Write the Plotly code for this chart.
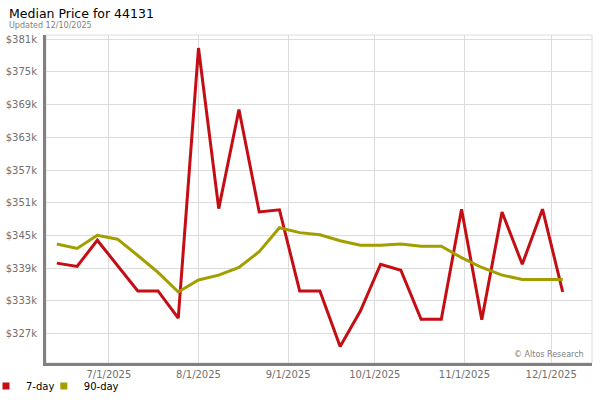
import plotly.graph_objects as go

# weekly points (Fridays)
dates = ["2025-06-13", "2025-06-20", "2025-06-27", "2025-07-04", "2025-07-11",
         "2025-07-18", "2025-07-25", "2025-08-01", "2025-08-08", "2025-08-15",
         "2025-08-22", "2025-08-29", "2025-09-05", "2025-09-12", "2025-09-19",
         "2025-09-26", "2025-10-03", "2025-10-10", "2025-10-17", "2025-10-24",
         "2025-10-31", "2025-11-07", "2025-11-14", "2025-11-21", "2025-11-28",
         "2025-12-05"]

price_7day = [339900, 339300, 344100, 339500, 334800, 334800, 329800, 379400,
              349900, 368100, 349300, 349700, 334800, 334800, 324600, 331100,
              339700, 338600, 329600, 329600, 349800, 329500, 349300, 339700,
              349800, 334600]

price_90day = [343400, 342600, 345000, 344300, 341300, 338200, 334600, 336800,
               337700, 339100, 342000, 346400, 345500, 345100, 344000, 343200,
               343200, 343400, 343000, 343000, 340900, 339100, 337700, 336900,
               336900, 336900]

y_ticks = [327000, 333000, 339000, 345000, 351000, 357000, 363000, 369000,
           375000, 381000]
y_labels = ["$327k", "$333k", "$339k", "$345k", "$351k", "$357k", "$363k",
            "$369k", "$375k", "$381k"]

x_ticks = ["2025-07-01", "2025-08-01", "2025-09-01", "2025-10-01",
           "2025-11-01", "2025-12-01"]
x_labels = ["7/1/2025", "8/1/2025", "9/1/2025", "10/1/2025", "11/1/2025",
            "12/1/2025"]

RED = "#c50d14"
OLIVE = "#a39e00"
FONT = "DejaVu Sans"

fig = go.Figure()

fig.add_trace(go.Scatter(x=dates, y=price_7day, mode="lines", name="7-day",
                         line=dict(color=RED, width=3), showlegend=False,
                         hovertemplate="%{x}<br>$%{y:,.0f}<extra>7-day</extra>"))
fig.add_trace(go.Scatter(x=dates, y=price_90day, mode="lines", name="90-day",
                         line=dict(color=OLIVE, width=3), showlegend=False,
                         hovertemplate="%{x}<br>$%{y:,.0f}<extra>90-day</extra>"))

# square legend swatches, one legend box each so they can sit close together
for name, color, leg in [("7-day", RED, "legend"), ("90-day", OLIVE, "legend2")]:
    fig.add_trace(go.Scatter(x=[None], y=[None], mode="markers", name=name,
                             legend=leg,
                             marker=dict(symbol="square", size=7, color=color)))

legend_style = dict(orientation="h", xref="paper", xanchor="left",
                    yref="container", y=0.035, yanchor="middle",
                    font=dict(size=10, color="#000"), itemwidth=30,
                    bgcolor="rgba(0,0,0,0)")

fig.update_layout(
    width=600,
    height=400,
    margin=dict(l=46, r=8, t=35, b=37, autoexpand=False),
    paper_bgcolor="white",
    plot_bgcolor="white",
    font=dict(family=FONT, size=10, color="#000"),
    showlegend=True,
    legend=dict(x=-0.1099, **legend_style),
    legend2=dict(x=-0.004, **legend_style),
    xaxis=dict(
        range=["2025-06-09 06:00", "2025-12-15 03:00"],
        tickvals=x_ticks, ticktext=x_labels,
        showgrid=True, gridcolor="#dcdcdc", gridwidth=1,
        showline=True, linecolor="#808080", linewidth=3,
        ticks="", tickfont=dict(size=10, color="#707070"),
        zeroline=False, automargin=False,
    ),
    yaxis=dict(
        range=[321560, 381790],
        tickvals=y_ticks, ticktext=y_labels,
        showgrid=True, gridcolor="#dcdcdc", gridwidth=1,
        showline=True, linecolor="#808080", linewidth=3,
        ticks="", tickfont=dict(size=10, color="#707070"),
        ticklabelstandoff=4,
        zeroline=False, automargin=False,
    ),
    shapes=[dict(type="rect", xref="paper", yref="paper", x0=0, x1=1, y0=0, y1=1,
                 line=dict(color="#dcdcdc", width=1), layer="below")],
    annotations=[
        dict(text="Median Price for 44131", xref="paper", yref="paper",
             x=-0.0714, y=1.066, xanchor="left", yanchor="middle",
             showarrow=False, font=dict(size=12.5, color="#000")),
        dict(text="Updated 12/10/2025", xref="paper", yref="paper",
             x=-0.0714, y=1.030, xanchor="left", yanchor="middle",
             showarrow=False, font=dict(size=8, color="#808080")),
        dict(text="© Altos Research", xref="paper", yref="paper",
             x=0.989, y=0.027, xanchor="right", yanchor="middle",
             showarrow=False, font=dict(size=8, color="#808080")),
    ],
)

# drop the browser's default 8px body margin so the figure sits at 0,0
fig.write_html("out.html", config={"displayModeBar": False},
               post_script="document.body.style.margin = '0px';")
